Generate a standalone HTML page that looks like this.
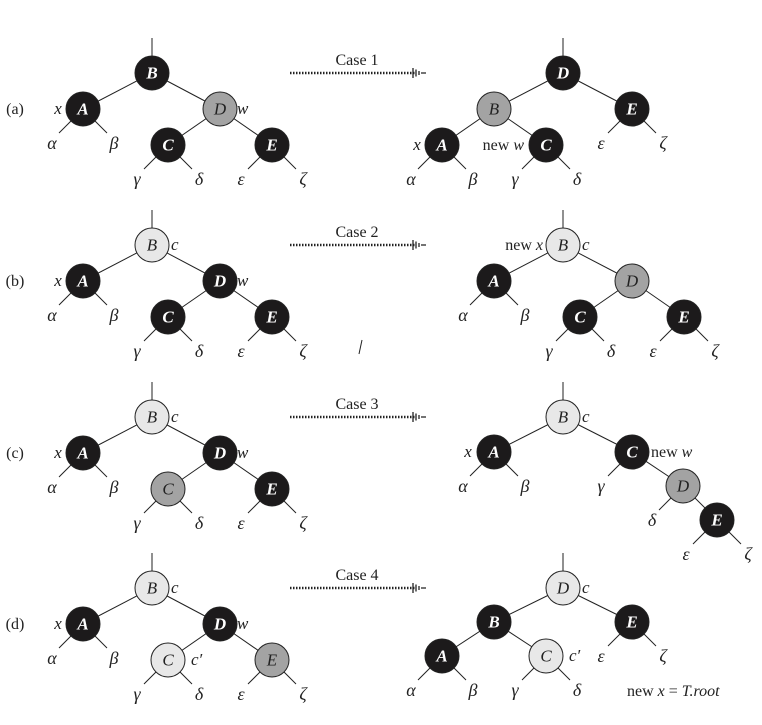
<!DOCTYPE html>
<html><head><meta charset="utf-8"><style>
html,body{margin:0;padding:0;background:#fff;}
svg{display:block;font-family:"Liberation Serif","DejaVu Serif",serif;}
svg text{font-family:"Liberation Serif","DejaVu Serif",serif;}
</style></head><body>
<svg id="s" width="762" height="725" viewBox="0 0 762 725" xmlns="http://www.w3.org/2000/svg" font-family="Liberation Serif, serif"></svg>
<script>
const s=document.getElementById('s');
let E='',N='',T='';
const R=17;
const FF='font-family="Liberation Serif, DejaVu Serif, serif"';
const col={k:'#1c1a1b',g:'#a3a3a3',l:'#e8e8e8'};
function line(x1,y1,x2,y2){E+=`<line x1="${x1}" y1="${y1}" x2="${x2}" y2="${y2}" stroke="#222" stroke-width="1"/>`;}
function node(x,y,L,c){N+=`<circle cx="${x}" cy="${y}" r="${R}" fill="${col[c]}" stroke="#222" stroke-width="1"/>`;
 const f=c=='k'?'#fff':'#222', w=c=='k'?'bold':'normal';
 N+=`<text ${FF} x="${x}" y="${y+5.5}" text-anchor="middle" font-size="17" font-style="italic" font-weight="${w}" fill="${f}">${L}</text>`;}
function lab(x,y,t,it=true,anchor='middle',fs=17){T+=`<text ${FF} x="${x}" y="${y}" text-anchor="${anchor}" font-size="${fs}" ${it?'font-style="italic"':''} fill="#222">${t}</text>`;}
function leaf(x,y,d,t){const k=0.707;line(x+d*R*k,y+R*k,x+d*24,y+24);lab(x+d*31,y+40,t,true,'middle',18);}
function root(x,y){line(x,y-R,x,y-35);}
function arrow(y,t){T+=`<line x1="290" y1="${y}" x2="416" y2="${y}" stroke="#222" stroke-width="2.5" stroke-dasharray="1.5,1.5"/>`;
 T+=`<path d="M413 ${y-5} L413 ${y+5} M416 ${y-3.5} L416 ${y+3.5} M419 ${y-2} L419 ${y+2} M421 ${y} L426 ${y}" stroke="#222" stroke-width="1.3" fill="none"/>`;
 lab(357,y-8,t,false,'middle',16);}
function tree(nodes,edges){for(const[a,b]of edges){line(nodes[a][0],nodes[a][1],nodes[b][0],nodes[b][1]);}
 for(const k in nodes){const n=nodes[k];node(n[0],n[1],k,n[2]);}}
const oy=[0,172,344,515];
const cols={a:['k','k','g','k','k'],b:['k','l','k','k','k'],c:['k','l','k','g','k'],d:['k','l','k','l','g']};
['a','b','c','d'].forEach((r,i)=>{
 const y0=73+oy[i],y1=y0+36,y2=y0+72;
 lab(15,y1+5,'('+r+')',false,'middle',16);
 const c=cols[r];
 const nd={A:[83,y1,c[0]],B:[152,y0,c[1]],D:[220,y1,c[2]],C:[168,y2,c[3]],E:[272,y2,c[4]]};
 root(152,y0);
 tree(nd,[['B','A'],['B','D'],['D','C'],['D','E']]);
 leaf(83,y1,-1,'α');leaf(83,y1,1,'β');leaf(168,y2,-1,'γ');leaf(168,y2,1,'δ');leaf(272,y2,-1,'ε');leaf(272,y2,1,'ζ');
 lab(58,y1+5,'x');lab(237,y1+5,'w',true,'start');
 if(r!='a')lab(171,y0+5,'c',true,'start');
 if(r=='d')lab(191,y2+5,"c′",true,'start');
 arrow(y0,'Case '+(i+1));
});
{const y0=73,y1=109,y2=145;root(563,y0);
 tree({D:[563,y0,'k'],B:[494,y1,'g'],E:[632,y1,'k'],A:[442,y2,'k'],C:[546,y2,'k']},[['D','B'],['D','E'],['B','A'],['B','C']]);
 leaf(442,y2,-1,'α');leaf(442,y2,1,'β');leaf(546,y2,-1,'γ');leaf(546,y2,1,'δ');leaf(632,y1,-1,'ε');leaf(632,y1,1,'ζ');
 lab(417,y2+5,'x');T+=`<text ${FF} x="524" y="${y2+5}" text-anchor="end" font-size="16" fill="#222">new <tspan font-style="italic">w</tspan></text>`;}
{const y0=245,y1=281,y2=317;root(563,y0);
 tree({B:[563,y0,'l'],A:[494,y1,'k'],D:[632,y1,'g'],C:[580,y2,'k'],E:[684,y2,'k']},[['B','A'],['B','D'],['D','C'],['D','E']]);
 leaf(494,y1,-1,'α');leaf(494,y1,1,'β');leaf(580,y2,-1,'γ');leaf(580,y2,1,'δ');leaf(684,y2,-1,'ε');leaf(684,y2,1,'ζ');
 lab(582,y0+5,'c',true,'start');T+=`<text ${FF} x="543" y="${y0+5}" text-anchor="end" font-size="16" fill="#222">new <tspan font-style="italic">x</tspan></text>`;
 line(362,340,359,354);}
{const y0=417,y1=452,y2=486,y3=520;root(563,y0);
 tree({B:[563,y0,'l'],A:[494,y1,'k'],C:[632,y1,'k'],D:[683,y2,'g'],E:[717,y3,'k']},[['B','A'],['B','C'],['C','D'],['D','E']]);
 leaf(494,y1,-1,'α');leaf(494,y1,1,'β');leaf(632,y1,-1,'γ');leaf(683,y2,-1,'δ');leaf(717,y3,-1,'ε');leaf(717,y3,1,'ζ');
 lab(582,y0+5,'c',true,'start');lab(468,y1+5,'x');
 T+=`<text ${FF} x="651" y="${y1+5}" font-size="16" fill="#222">new <tspan font-style="italic">w</tspan></text>`;}
{const y0=588,y1=622,y2=656;root(563,y0);
 tree({D:[563,y0,'l'],B:[494,y1,'k'],E:[632,y1,'k'],A:[442,y2,'k'],C:[546,y2,'l']},[['D','B'],['D','E'],['B','A'],['B','C']]);
 leaf(442,y2,-1,'α');leaf(442,y2,1,'β');leaf(546,y2,-1,'γ');leaf(546,y2,1,'δ');leaf(632,y1,-1,'ε');leaf(632,y1,1,'ζ');
 lab(582,y0+5,'c',true,'start');lab(569,y2+5,"c′",true,'start');
 T+=`<text ${FF} x="627" y="696" font-size="16" fill="#222">new <tspan font-style="italic">x</tspan> = <tspan font-style="italic">T.root</tspan></text>`;}
s.innerHTML=E+N+T;
</script>
</body></html>
